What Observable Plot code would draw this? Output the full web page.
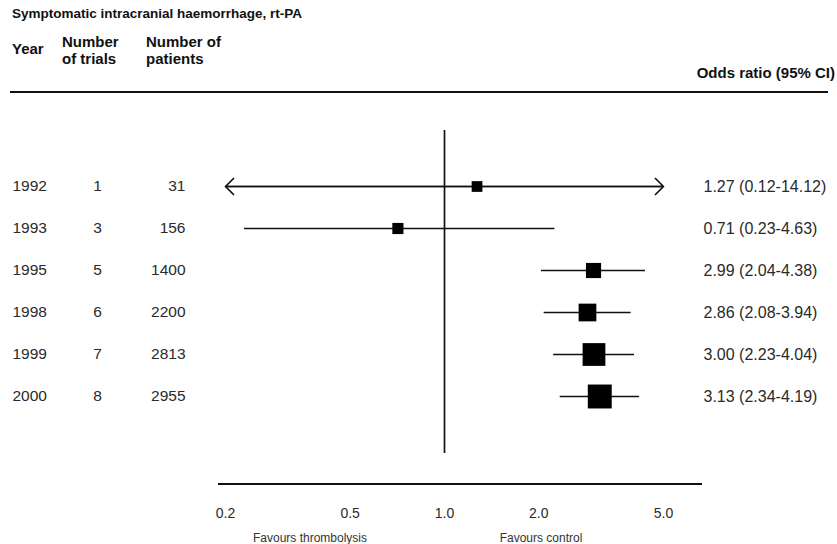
<!DOCTYPE html>
<html>
<head>
<meta charset="utf-8">
<script src="https://cdn.jsdelivr.net/npm/d3@7"></script>
<script src="https://cdn.jsdelivr.net/npm/@observablehq/plot@0.6"></script>
<style>
  body { margin: 0; background: #fff; font-family: "Liberation Sans", Arial, sans-serif; }
  #wrap { position: relative; width: 837px; height: 544px; overflow: hidden; background: #fff; }
  #chart { position: absolute; left: 0; top: 0; }
  .hd { position: absolute; font-weight: bold; font-size: 15px; line-height: 17px; color: #111; white-space: nowrap; }
  .rule { position: absolute; height: 2px; background: #111; }
  .fav { position: absolute; font-size: 12px; color: #333; white-space: nowrap; transform: translateX(-50%); }
</style>
</head>
<body>
<div id="wrap">
  <div id="chart"></div>
  <div class="hd" style="left:12px; top:5px; font-size:13.5px;">Symptomatic intracranial haemorrhage, rt-PA</div>
  <div class="hd" style="left:12px; top:40px;">Year</div>
  <div class="hd" style="left:62px; top:33px;">Number<br>of trials</div>
  <div class="hd" style="left:146px; top:33px;">Number of<br>patients</div>
  <div class="hd" style="right:2px; top:64px;">Odds ratio (95% CI)</div>
  <div class="rule" style="left:10px; width:818px; top:91px;"></div>
  <div class="rule" style="left:218px; width:484px; top:483px;"></div>
  <div class="fav" style="left:310px; top:531px;">Favours thrombolysis</div>
  <div class="fav" style="left:541px; top:531px;">Favours control</div>
</div>
<script>
// ---- data ----
const years = ["1992", "1993", "1995", "1998", "1999", "2000"];
const trials = [1, 3, 5, 6, 7, 8];
const patients = [31, 156, 1400, 2200, 2813, 2955];
const oddsRatio = [1.27, 0.71, 2.99, 2.86, 3.00, 3.13];
const ciLow = [0.12, 0.23, 2.04, 2.08, 2.23, 2.34];
const ciHigh = [14.12, 2.25, 4.38, 3.94, 4.04, 4.19]; // 1993 line as drawn in the picture
const ciLabels = ["1.27 (0.12-14.12)", "0.71 (0.23-4.63)", "2.99 (2.04-4.38)", "2.86 (2.08-3.94)", "3.00 (2.23-4.04)", "3.13 (2.34-4.19)"];
const tickValues = [0.2, 0.5, 1.0, 2.0, 5.0];
const xDomain = [0.2, 5];

const rows = years.map((year, i) => ({
  year, trials: trials[i], patients: patients[i],
  or: oddsRatio[i], lo: ciLow[i], hi: ciHigh[i], label: ciLabels[i]
}));

const font = "Liberation Sans, Arial, sans-serif";
const numStyle = { fontSize: 15.5, fill: "#2a2a2a", fontFamily: font };

const chart = Plot.plot({
  width: 837,
  height: 544,
  marginTop: 130,
  marginBottom: 91,
  marginLeft: 225,
  marginRight: 174,
  style: { background: "transparent", overflow: "visible" },
  x: { type: "log", domain: xDomain, clamp: true, axis: null },
  y: { type: "point", domain: years, range: [184, 397], padding: 0, axis: null },
  r: { type: "linear", domain: [0, 2200, 2955], range: [6, 10, 13.5] },
  marks: [
    Plot.ruleX([1], { stroke: "#111", strokeWidth: 1.7 }),
    Plot.ruleY(rows, { y: "year", x1: "lo", x2: "hi", stroke: "#111", strokeWidth: 1.7 }),
    Plot.arrow(rows.filter(d => d.lo < xDomain[0]), {
      y: "year", x1: "or", x2: "lo", stroke: "#111", strokeWidth: 1.7,
      headLength: 10, headAngle: 90, inset: 0
    }),
    Plot.arrow(rows.filter(d => d.hi > xDomain[1]), {
      y: "year", x1: "or", x2: "hi", stroke: "#111", strokeWidth: 1.7,
      headLength: 10, headAngle: 90, inset: 0
    }),
    Plot.dot(rows, { x: "or", y: "year", r: "patients", symbol: "square", fill: "#000", stroke: "none" }),
    // left columns
    Plot.text(rows, { y: "year", text: "year", frameAnchor: "left", dx: -213, textAnchor: "start", ...numStyle }),
    Plot.text(rows, { y: "year", text: d => String(d.trials), frameAnchor: "left", dx: -128, textAnchor: "middle", ...numStyle }),
    Plot.text(rows, { y: "year", text: d => String(d.patients), frameAnchor: "left", dx: -40, textAnchor: "end", ...numStyle }),
    // right column
    Plot.text(rows, { y: "year", text: "label", frameAnchor: "right", dx: 40, textAnchor: "start", ...numStyle, fontSize: 16 }),
    // x tick labels
    Plot.text(tickValues, { x: d => d, text: d => d3.format(".1f")(d), frameAnchor: "bottom", dy: 64, fontSize: 14, fill: "#2a2a2a", fontFamily: font })
  ]
});
document.getElementById("chart").appendChild(chart);
</script>
</body>
</html>
